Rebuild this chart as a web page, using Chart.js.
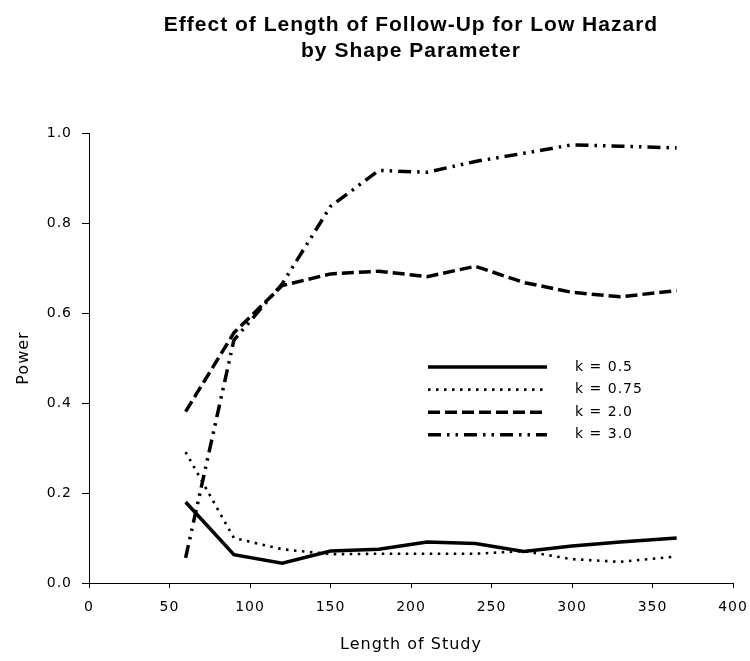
<!DOCTYPE html>
<html>
<head>
<meta charset="utf-8">
<script src="https://cdn.jsdelivr.net/npm/chart.js@4"></script>
<style>
  html, body { margin: 0; padding: 0; background: #fff; }
  #wrap { width: 750px; height: 661px; }
</style>
</head>
<body>
<div id="wrap"><canvas id="grafico"></canvas></div>
<script>
// Dados (dias de estudo x poder)
const dias = [60, 90, 120, 150, 180, 210, 240, 270, 300, 330, 365];
const k05  = [0.180, 0.063, 0.044, 0.071, 0.075, 0.091, 0.088, 0.070, 0.082, 0.091, 0.100];
const k075 = [0.291, 0.100, 0.075, 0.064, 0.065, 0.065, 0.065, 0.071, 0.053, 0.047, 0.059];
const k20  = [0.381, 0.556, 0.661, 0.687, 0.693, 0.681, 0.704, 0.668, 0.646, 0.636, 0.650];
const k30  = [0.056, 0.540, 0.665, 0.837, 0.917, 0.913, 0.937, 0.955, 0.974, 0.971, 0.967];
const rotulos = ['k = 0.5', 'k = 0.75', 'k = 2.0', 'k = 3.0'];
const titulo = ['Effect of Length of Follow-Up for Low Hazard', 'by Shape Parameter'];

const pontos = (ys) => dias.map((d, i) => ({ x: d, y: ys[i] }));

// espaçamento entre letras, como no original
const espacamento = {
  id: 'espacamento',
  beforeDraw(chart) { chart.ctx.letterSpacing = '1px'; }
};

// legenda desenhada dentro da área do gráfico
const legendaLinhas = {
  id: 'legendaLinhas',
  afterDatasetsDraw(chart) {
    const ctx = chart.ctx;
    chart.data.datasets.forEach((ds, i) => {
      const y = 367 + i * 22.6;
      ctx.save();
      ctx.strokeStyle = ds.borderColor;
      ctx.lineWidth = ds.borderWidth;
      ctx.setLineDash(ds.borderDash || []);
      ctx.beginPath();
      ctx.moveTo(428, y);
      ctx.lineTo(547, y);
      ctx.stroke();
      ctx.setLineDash([]);
      ctx.fillStyle = '#000';
      ctx.font = '14px "DejaVu Sans"';
      ctx.textBaseline = 'middle';
      ctx.fillText(ds.label, 575, y);
      ctx.restore();
    });
  }
};

const serie = (label, ys, width, dash) => ({
  label: label,
  data: pontos(ys),
  borderColor: '#000',
  borderWidth: width,
  borderDash: dash,
  borderCapStyle: 'butt',
  pointRadius: 0,
  tension: 0,
  fill: false
});

const ctx = document.getElementById('grafico').getContext('2d');
new Chart(ctx, {
  type: 'line',
  data: {
    datasets: [
      serie(rotulos[0], k05, 3.5, []),
      serie(rotulos[1], k075, 2.6, [2.5, 5.5]),
      serie(rotulos[2], k20, 3.5, [12, 5]),
      serie(rotulos[3], k30, 3.5, [13, 6, 2.5, 6, 2.5, 6])
    ]
  },
  plugins: [espacamento, legendaLinhas],
  options: {
    responsive: true,
    maintainAspectRatio: false,
    animation: false,
    layout: { padding: { left: 0, right: 17, top: 0, bottom: 0 } },
    plugins: {
      legend: { display: false },
      tooltip: { enabled: false },
      title: {
        display: true,
        fullSize: false,
        text: titulo,
        color: '#000',
        font: { family: '"Liberation Sans", Arial', size: 21, weight: 'bold', lineHeight: 1.24 },
        padding: { top: 12, bottom: 69 }
      }
    },
    scales: {
      x: {
        type: 'linear',
        min: 0,
        max: 400,
        afterFit: (s) => { s.height = 78; s.paddingRight = 0; },
        ticks: {
          stepSize: 50,
          color: '#000',
          padding: 11,
          font: { family: '"DejaVu Sans"', size: 14 }
        },
        grid: { drawOnChartArea: false, drawTicks: true, tickLength: 5, color: '#000' },
        border: { display: true, color: '#000', width: 1 },
        title: {
          display: true,
          text: 'Length of Study',
          color: '#000',
          font: { family: '"DejaVu Sans"', size: 16 },
          padding: { top: 0, bottom: 7 }
        }
      },
      y: {
        min: 0,
        max: 1,
        afterFit: (s) => { s.width = 89; },
        ticks: {
          stepSize: 0.2,
          color: '#000',
          padding: 10,
          font: { family: '"DejaVu Sans"', size: 14 },
          callback: (v) => Number(v).toFixed(1)
        },
        grid: { drawOnChartArea: false, drawTicks: true, tickLength: 7, color: '#000' },
        border: { display: true, color: '#000', width: 1 },
        title: {
          display: true,
          text: 'Power',
          color: '#000',
          font: { family: '"DejaVu Sans"', size: 16 },
          padding: { top: 14, bottom: 0 }
        }
      }
    }
  }
});
</script>
</body>
</html>
